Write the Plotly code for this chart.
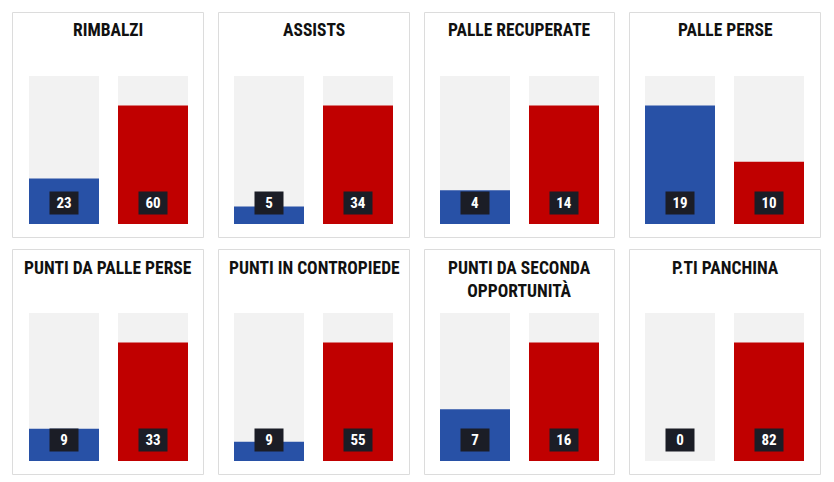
import plotly.graph_objects as go

W, H = 834, 482

titles = ["RIMBALZI", "ASSISTS", "PALLE RECUPERATE", "PALLE PERSE",
          "PUNTI DA PALLE PERSE", "PUNTI IN CONTROPIEDE",
          "PUNTI DA SECONDA<br>OPPORTUNITÀ", "P.TI PANCHINA"]
teams = ["Squadra A", "Squadra B"]
home_values = [23, 5, 4, 19, 9, 9, 7, 0]
away_values = [60, 34, 14, 10, 33, 55, 16, 82]

BLUE = "#2851a6"
RED = "#c00000"
TRACK = "#f2f2f2"
LABEL_BG = "#1b1d26"
BORDER = "#dcdcdc"
FONT = "Roboto Condensed, Roboto, sans-serif"

def px_x(x):
    return x / W

def px_y(y):
    return 1 - y / H

fig = go.Figure()
layout = dict(
    width=W, height=H, margin=dict(l=0, r=0, t=0, b=0),
    paper_bgcolor="white", plot_bgcolor="rgba(0,0,0,0)",
    showlegend=False, barmode="overlay",
    shapes=[], annotations=[],
)

border_left = [12.5, 218.5, 424.5, 629.5]
border_right = [203.5, 409.5, 614.5, 820.5]
border_top = [12.5, 249.5]
border_bottom = [237.5, 474.5]
track_left = [29, 234, 440, 645]
track_top = [76, 313]
track_h = 148
track_span = 159
bar_w = 70 / 89
fill_ratio = 0.8

for i in range(8):
    r, c = divmod(i, 4)
    n = i + 1
    xa = "xaxis" if n == 1 else f"xaxis{n}"
    ya = "yaxis" if n == 1 else f"yaxis{n}"
    xr = "x" if n == 1 else f"x{n}"
    yr = "y" if n == 1 else f"y{n}"

    vals = [home_values[i], away_values[i]]
    vmax = max(vals) if max(vals) > 0 else 1
    full = vmax / fill_ratio

    tx0 = track_left[c]
    tx1 = tx0 + track_span
    ty0 = track_top[r]
    ty1 = ty0 + track_h

    layout[xa] = dict(domain=[px_x(tx0), px_x(tx1)], anchor=yr,
                      range=[-bar_w / 2, 1 + bar_w / 2], visible=False,
                      fixedrange=True)
    layout[ya] = dict(domain=[px_y(ty1), px_y(ty0)], anchor=xr,
                      range=[0, full], visible=False, fixedrange=True)

    fig.add_trace(go.Bar(x=[0, 1], y=[full, full], width=bar_w,
                         marker=dict(color=TRACK, line=dict(width=0)),
                         xaxis=xr, yaxis=yr, hoverinfo="skip",
                         customdata=teams))
    fig.add_trace(go.Bar(x=[0, 1], y=vals, width=bar_w,
                         marker=dict(color=[BLUE, RED], line=dict(width=0)),
                         xaxis=xr, yaxis=yr, customdata=teams,
                         hovertemplate="%{customdata}: %{y}<extra></extra>"))

    for k, v in enumerate(vals):
        layout["annotations"].append(dict(
            x=k, y=0, xref=xr, yref=yr, yshift=21, yanchor="middle",
            xanchor="center", text=f"<b>{v}</b>", showarrow=False,
            bgcolor=LABEL_BG, width=28, height=22, borderpad=0,
            font=dict(family=FONT, size=15, color="white"),
        ))

    left, right = border_left[c], border_right[c]
    top, bottom = border_top[r], border_bottom[r]
    layout["shapes"].append(dict(
        type="rect", xref="paper", yref="paper",
        x0=px_x(left), x1=px_x(right),
        y0=px_y(bottom), y1=px_y(top),
        line=dict(color=BORDER, width=1), fillcolor="rgba(0,0,0,0)",
        layer="below",
    ))
    layout["annotations"].append(dict(
        x=px_x((left + right) / 2), y=px_y(top + 6), xref="paper",
        yref="paper", xanchor="center", yanchor="top",
        text=f"<b>{titles[i]}</b>", showarrow=False, align="center",
        font=dict(family=FONT, size=17.5, color="#111111"),
    ))

fig.update_layout(**layout)
fig.write_html("out.html", config={"displayModeBar": False},
               post_script="document.body.style.margin='0';"
                           "document.body.style.overflow='hidden';")
